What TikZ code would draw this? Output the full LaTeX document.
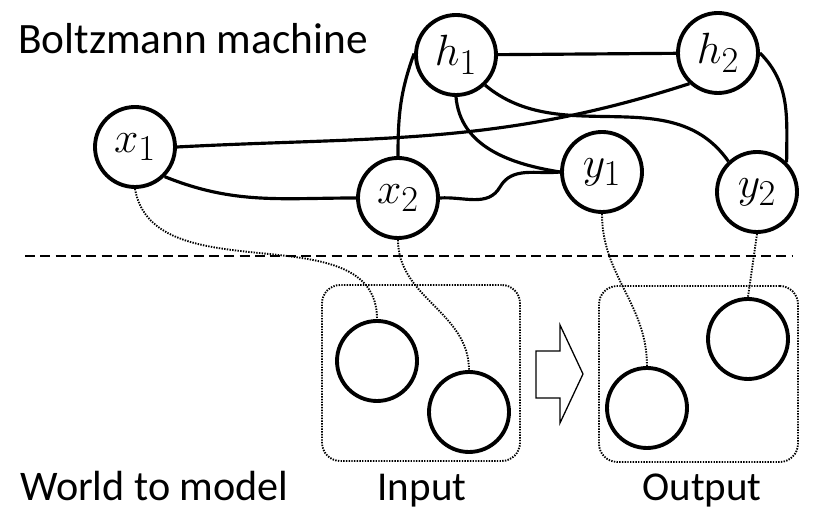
\documentclass[tikz,border=0pt]{standalone}
\usepackage{fontspec}
\setmainfont{Carlito}
\usepackage{graphicx}
\usepackage{tikz}
\usetikzlibrary{positioning}
\newcommand{\varlabel}[1]{\scalebox{1.5}{\Huge$#1$}}

\begin{document}
\begin{tikzpicture}[x=0.03cm, y=0.03cm,
  unit/.style={circle, draw, line width=3.3pt, minimum size=2.4cm, inner sep=0pt},
  link/.style={line width=2.7pt},
  tie/.style={dash pattern=on 1.2pt off 1.1pt, line width=1.6pt},
  caption/.style={inner sep=0pt, font=\fontsize{35}{40}\selectfont}]
  \useasboundingbox (0,0) rectangle (832,514);

  % Titles
  \node[caption, anchor=base west, font=\fontsize{37}{42}\selectfont] (title) at (18,460) {Boltzmann machine};
  \node[caption, anchor=base west, font=\fontsize{36}{42}\selectfont] (world) at (20,13) {World to model};

  % Visible and hidden units
  \node[unit] (x1) at (135,367) {\varlabel{x_1}};
  \node[unit] (x2) at (398,316) {\varlabel{x_2}};
  \node[unit] (h1) at (456,459) {\varlabel{h_1}};
  \node[unit] (h2) at (718,461) {\varlabel{h_2}};
  \node[unit] (y1) at (602,342) {\varlabel{y_1}};
  \node[unit] (y2) at (757,322) {\varlabel{y_2}};

  % Connections of the machine
  \draw[link] (h1) -- (h2);
  \draw[link] (h1.178) to[out=-110, in=90] (x2.north);
  \draw[link] (x1.east) to[out=3, in=198] (h2.227);
  \draw[link] (x1.-45) to[out=-22, in=180] (x2.west);
  \draw[link] (x2.east) to[out=4, in=240] (500,327) to[out=60, in=186] (y1.west);
  \draw[link] (h1.south) to[out=-85, in=171] (y1.west);
  \draw[link] (h1.-46) to[out=-40, in=125] (y2.133);
  \draw[link] (h2.east) to[out=-45, in=90] (y2.45);

  % Separator
  \draw[line width=1.6pt, dash pattern=on 0.3cm off 0.16cm] (25,258) -- (793,258);

  % World side
  \node[draw, tie, rounded corners=0.55cm, minimum width=5.94cm, minimum height=5.28cm] (inbox) at (421,141) {};
  \node[draw, tie, rounded corners=0.55cm, minimum width=5.97cm, minimum height=5.28cm] (outbox) at (698.5,140) {};
  \node[unit] (in1) at (377,153) {};
  \node[unit] (in2) at (469,102) {};
  \node[unit] (out1) at (647,106) {};
  \node[unit] (out2) at (748,175) {};
  \node[caption, anchor=base] (inlabel) at (422,13) {Input};
  \node[caption, anchor=base] (outlabel) at (702,13) {Output};

  % Block arrow
  \draw[line width=1.1pt] (536,163) -- (560,163) -- (560,189) -- (583,140) -- (560,91) -- (560,116) -- (536,116) -- cycle;

  % Ties between model and world
  \draw[tie] (x1.south) to[out=-80, in=90] (in1.north);
  \draw[tie] (x2.south) to[out=-90, in=90] (in2.north);
  \draw[tie] (y1.south) to[out=-90, in=90] (out1.north);
  \draw[tie] (y2.south) -- (out2.north);
\end{tikzpicture}
\end{document}
